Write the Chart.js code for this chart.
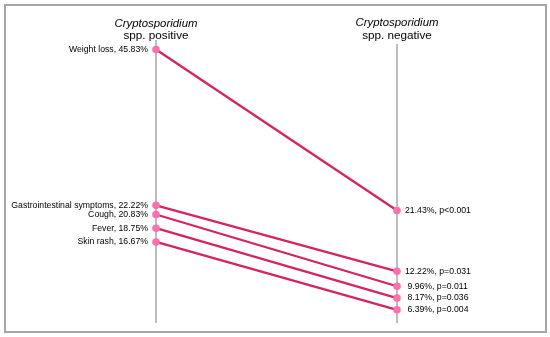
<!DOCTYPE html>
<html>
<head>
<meta charset="utf-8">
<script src="https://cdn.jsdelivr.net/npm/chart.js@4/dist/chart.umd.min.js"></script>
<style>
    html, body { margin: 0; padding: 0; background: #fff; }
    #wrap { position: relative; width: 550px; height: 337px; }
    #frame { position: absolute; left: 4px; top: 4px; width: 539px; height: 325px; border: 2px solid #a6a6a6; pointer-events: none; }
</style>
</head>
<body>
<div id="wrap">
    <canvas id="slopeChart" width="550" height="337"></canvas>
    <div id="frame"></div>
</div>
<script>
// Data
const symptoms = ['Weight loss', 'Gastrointestinal symptoms', 'Cough', 'Fever', 'Skin rash'];
const positiveValues = [45.83, 22.22, 20.83, 18.75, 16.67];
const negativeValues = [21.43, 12.22, 9.96, 8.17, 6.39];
const pValues = ['p<0.001', 'p=0.031', 'p=0.011', 'p=0.036', 'p=0.004'];
const groupLabels = ['positive', 'negative'];

const lineColor = '#d6245e';
const pointColor = '#ff6fae';
const axisColor = '#bdbdbd';
const labelFont = '8.7px "Liberation Sans", Arial, sans-serif';

// one dataset per symptom, two points each (positive -> negative)
const datasets = symptoms.map((name, i) => ({
    label: name,
    data: [{ x: 0, y: positiveValues[i] }, { x: 1, y: negativeValues[i] }],
    borderColor: lineColor,
    borderWidth: 2.3,
    pointRadius: 3.8,
    pointBackgroundColor: pointColor,
    pointBorderColor: pointColor,
    pointBorderWidth: 0,
    clip: false
}));

// Vertical axes + headers + text labels
const slopeDecor = {
    id: 'slopeDecor',
    beforeDatasetsDraw(chart) {
        const ctx = chart.ctx;
        const x = chart.scales.x;
        const area = chart.chartArea;
        ctx.save();
        ctx.strokeStyle = axisColor;
        ctx.lineWidth = 2;
        [0, 1].forEach(v => {
            const px = Math.round(x.getPixelForValue(v));
            ctx.beginPath();
            ctx.moveTo(px, area.top + (v === 1 ? 4 : 0));
            ctx.lineTo(px, area.bottom);
            ctx.stroke();
        });
        ctx.restore();
    },
    afterDatasetsDraw(chart) {
        const ctx = chart.ctx;
        const x = chart.scales.x;
        ctx.save();

        // headers
        ctx.fillStyle = '#000';
        ctx.textAlign = 'center';
        ctx.textBaseline = 'middle';
        groupLabels.forEach((g, i) => {
            const px = x.getPixelForValue(i);
            const off = i === 1 ? -1 : 0;
            ctx.font = 'italic 11.4px "Liberation Sans", Arial, sans-serif';
            ctx.fillText('Cryptosporidium', px, 24 + off);
            ctx.font = '11.7px "Liberation Sans", Arial, sans-serif';
            ctx.fillText('spp. ' + g, px, 36);
        });

        // point labels
        ctx.font = labelFont;
        ctx.fillStyle = '#000';
        symptoms.forEach((name, i) => {
            const meta = chart.getDatasetMeta(i);
            const left = meta.data[0];
            const right = meta.data[1];
            ctx.textAlign = 'right';
            ctx.fillText(`${name}, ${positiveValues[i]}%`, left.x - 8, left.y);
            ctx.textAlign = 'left';
            const pad = negativeValues[i] < 10 ? ' ' : '';
            ctx.fillText(`${pad}${negativeValues[i].toFixed(2)}%, ${pValues[i]}`, right.x + 8, right.y);
        });
        ctx.restore();
    }
};

new Chart(document.getElementById('slopeChart'), {
    type: 'line',
    data: { datasets },
    options: {
        responsive: false,
        animation: false,
        layout: { padding: { left: 156, right: 153, top: 40, bottom: 14 } },
        scales: {
            x: { type: 'linear', min: 0, max: 1, display: false },
            y: { type: 'linear', min: 4.39, max: 47.27, display: false }
        },
        plugins: {
            legend: { display: false },
            tooltip: { enabled: false }
        }
    },
    plugins: [slopeDecor]
});
</script>
</body>
</html>
